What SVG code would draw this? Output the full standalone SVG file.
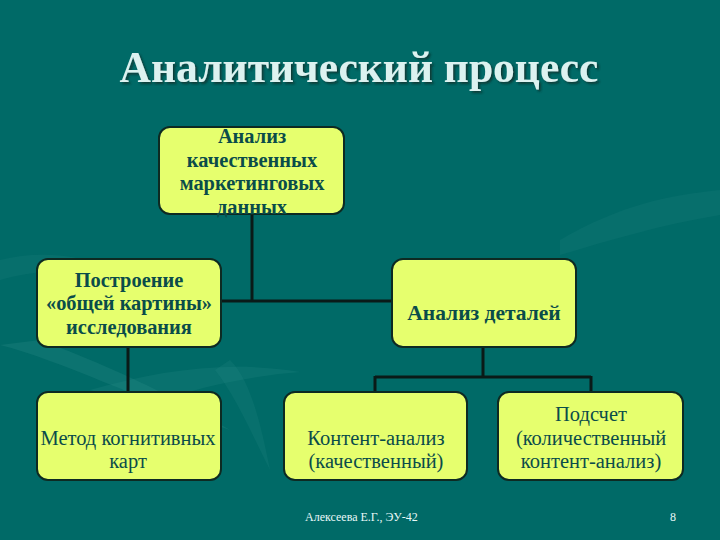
<svg xmlns="http://www.w3.org/2000/svg" width="720" height="540" viewBox="0 0 720 540">
<defs>
<filter id="sh" x="-5%" y="-20%" width="110%" height="140%"><feDropShadow dx="2" dy="2" stdDeviation="0.8" flood-color="#0a2e2c" flood-opacity="0.8"/></filter>
</defs>
<style>
text{font-family:'Liberation Serif','Times New Roman',serif}
.node rect{fill:#e6ff6e;stroke:#0d2a22;stroke-width:2}
.b{font-weight:bold;font-size:20.4px;fill:#0a4c4a;text-anchor:middle}
.r{font-size:20.5px;fill:#0a4c4a;text-anchor:middle}
.conn line{stroke:#0a1a18;stroke-width:3}
.foot{font-size:12px;fill:#e8f8f8}
</style>
<rect width="720" height="540" fill="#006a67"/>
<g id="bg-waves" fill="#2f8f8a">
<path d="M0 345 C60 360 140 400 230 430 C180 400 120 370 40 340 Z" opacity="0.25"/>
<path d="M90 390 C160 370 230 360 300 372 C260 375 200 385 150 405 Z" opacity="0.2"/>
<path d="M230 360 C250 380 260 420 270 470 C250 430 235 395 215 370 Z" opacity="0.18"/>
<path d="M560 240 C620 205 670 195 720 190 L720 215 C660 225 610 240 560 255 Z" opacity="0.15"/>
<path d="M0 260 C40 250 80 255 120 270 C80 270 40 268 0 280 Z" opacity="0.15"/>
</g>
<text x="359" y="82" text-anchor="middle" font-weight="bold" font-size="43.5" fill="#dcf2f0" filter="url(#sh)">Аналитический процесс</text>
<g class="conn">
<line x1="252" y1="214" x2="252" y2="301"/>
<line x1="221" y1="301" x2="392" y2="301"/>
<line x1="128" y1="347" x2="128" y2="392"/>
<line x1="483" y1="347" x2="483" y2="377"/>
<line x1="375" y1="377" x2="591" y2="377"/>
<line x1="375" y1="376" x2="375" y2="392"/>
<line x1="591" y1="376" x2="591" y2="392"/>
</g>
<g id="n1" class="node"><rect x="159" y="127" width="185" height="87" rx="11"/>
<text class="b"><tspan x="252" y="143">Анализ</tspan><tspan x="252" y="167">качественных</tspan><tspan x="252" y="190">маркетинговых</tspan><tspan x="252" y="214">данных</tspan></text></g>
<g id="n2" class="node"><rect x="37" y="259" width="184" height="88" rx="11"/>
<text class="b"><tspan x="129" y="287">Построение</tspan><tspan x="129" y="310">«общей картины»</tspan><tspan x="129" y="334">исследования</tspan></text></g>
<g id="n3" class="node"><rect x="392" y="259" width="184" height="88" rx="11"/>
<text class="b" style="font-size:21.5px"><tspan x="484" y="320">Анализ деталей</tspan></text></g>
<g id="n4" class="node"><rect x="37" y="392" width="184" height="88" rx="11"/>
<text class="r"><tspan x="128" y="445">Метод когнитивных</tspan><tspan x="128" y="468">карт</tspan></text></g>
<g id="n5" class="node"><rect x="284" y="392" width="183" height="88" rx="11"/>
<text class="r"><tspan x="376" y="445">Контент-анализ</tspan><tspan x="376" y="468">(качественный)</tspan></text></g>
<g id="n6" class="node"><rect x="498" y="392" width="185" height="88" rx="11"/>
<text class="r"><tspan x="591" y="421">Подсчет</tspan><tspan x="591" y="445">(количественный</tspan><tspan x="591" y="468">контент-анализ)</tspan></text></g>
<text class="foot" x="305" y="521">Алексеева Е.Г., ЭУ-42</text>
<text class="foot" x="670" y="521">8</text>
</svg>
